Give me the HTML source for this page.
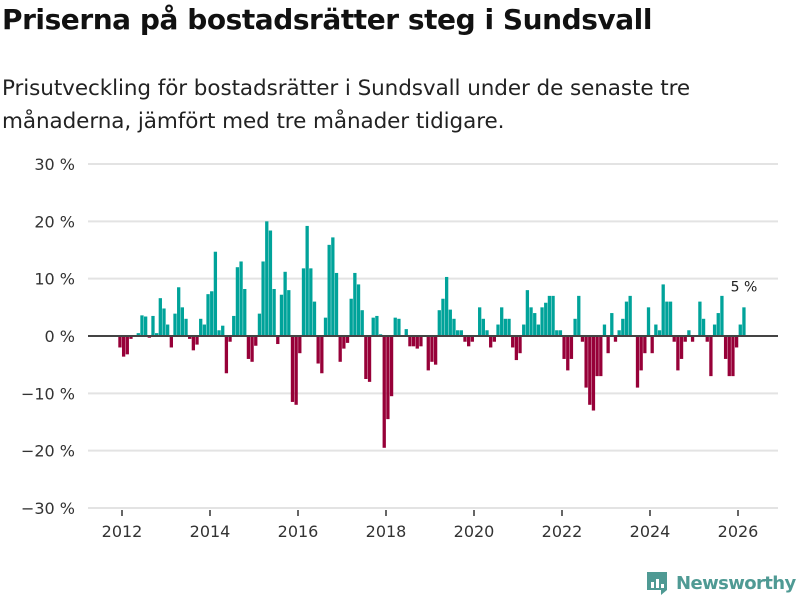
<!DOCTYPE html>
<html><head><meta charset="utf-8"><style>
body{margin:0;width:800px;height:600px;background:#fff;font-family:"Liberation Sans","DejaVu Sans",sans-serif;overflow:hidden;position:relative}
h1{position:absolute;left:2px;top:3px;margin:0;font-size:28px;font-weight:bold;color:#111;font-family:"DejaVu Sans",sans-serif;letter-spacing:-0.45px}
p{position:absolute;left:2px;top:72px;margin:0;font-size:21.5px;line-height:33px;color:#222;font-family:"DejaVu Sans",sans-serif;letter-spacing:-0.08px}
svg{position:absolute;left:0;top:0}
</style></head><body>
<h1>Priserna på bostadsrätter steg i Sundsvall</h1>
<p>Prisutveckling för bostadsrätter i Sundsvall under de senaste tre<br>månaderna, jämfört med tre månader tidigare.</p>
<svg id="chart" width="800" height="600"></svg>
<script>
const values=[-2,-3.6,-3.2,-0.5,0,0.5,3.6,3.4,-0.3,3.5,0.5,6.6,4.8,2,-2,3.9,8.5,5,3,-0.5,-2.5,-1.5,3,2,7.3,7.8,14.7,1,1.8,-6.5,-1,3.5,12,13,8.2,-4,-4.5,-1.7,3.9,13,20,18.4,8.2,-1.4,7.2,11.2,
8,-11.5,-12,-3,11.8,19.2,11.8,6,-4.8,-6.5,3.2,15.9,17.2,11,-4.5,-2.2,-1.2,6.5,11,9,4.5,-7.5,-8,3.2,3.5,0.3,-19.5,-14.5,-10.5,3.2,3,0,1.2,-1.8,-1.8,-2.2,-1.8,0,-6,-4.5,-5,4.5,6.5,10.3,
4.6,3,1,1,-1,-1.8,-1,0,5,3,1,-2,-1,2,5,3,3,-2,-4.2,-3,2,8,5,4,2,5,5.8,7,7,1,1,-4,-6,-4,3,7,-1,-9,-12,-13,-7,-7,2,
-3,4,-1,1,3,6,7,0,-9,-6,-3,5,-3,2,1,9,6,6,-1,-6,-4,-1,1,-1,0,6,3,-1,-7,2,4,7,-4,-7,-7,-2,2,5];
const yTicks=[30,20,10,0,-10,-20,-30];
const xTicks=[2012,2014,2016,2018,2020,2022,2024,2026];
const lastLabel="5 %";
const NS="http://www.w3.org/2000/svg";
const svg=document.getElementById('chart');
const y=v=>336-v*5.733;
const n=values.length;
const step=(744-120)/(n-1);
const xi=i=>120+i*step;
const xYear=yr=>122+(yr-2012)*44;
function mk(t,a){const e=document.createElementNS(NS,t);for(const k in a)e.setAttribute(k,a[k]);svg.appendChild(e);return e;}
yTicks.forEach(t=>{
 const g=mk('line',{x1:88,x2:778,y1:y(t),y2:y(t),stroke:'#e3e3e3','stroke-width':2});
 
 
 const tx=mk('text',{x:75,y:y(t)+6,'text-anchor':'end','font-size':16,fill:'#333','font-family':'DejaVu Sans, sans-serif'});
 tx.textContent=(t<0?'\u2212'+(-t):t)+' %';
 
 
});
values.forEach((v,i)=>{
 const r=mk('rect',{x:xi(i)-1.7,width:3.3,y:Math.min(y(v),y(0)),height:Math.abs(y(v)-y(0)),fill:v>=0?'#00a39a':'#970038'});
 
 
});
const z=mk('line',{x1:88,x2:778,y1:y(0),y2:y(0),stroke:'#444','stroke-width':2});


xTicks.forEach(yr=>{
 const l=mk('line',{x1:xYear(yr),x2:xYear(yr),y1:510,y2:516,stroke:'#333','stroke-width':1.5});
 
 
 const t=mk('text',{x:xYear(yr),y:537,'text-anchor':'middle','font-size':16,fill:'#333','font-family':'DejaVu Sans, sans-serif'});
 t.textContent=yr;
 
 
});
const ll=mk('text',{x:xi(n-1),y:y(values[n-1])-16,'text-anchor':'middle','font-size':14,fill:'#222','font-family':'DejaVu Sans, sans-serif'});
ll.textContent=lastLabel;


</script>
<div style="position:absolute;left:645px;top:570px;display:flex;align-items:center">
<svg width="24" height="26" viewBox="0 0 24 26" style="position:static"><path d="M2 2h20v18l-6 5v-5H2z" fill="#4f9a94"/><rect x="6" y="12" width="3" height="6" fill="#fff"/><rect x="11" y="9" width="3" height="9" fill="#fff"/><rect x="16" y="14" width="3" height="4" fill="#fff"/></svg>
<span style="font-family:'DejaVu Sans',sans-serif;font-weight:bold;font-size:18px;color:#4f9a94;margin-left:7px;letter-spacing:-0.6px">Newsworthy</span></div>
</body></html>
